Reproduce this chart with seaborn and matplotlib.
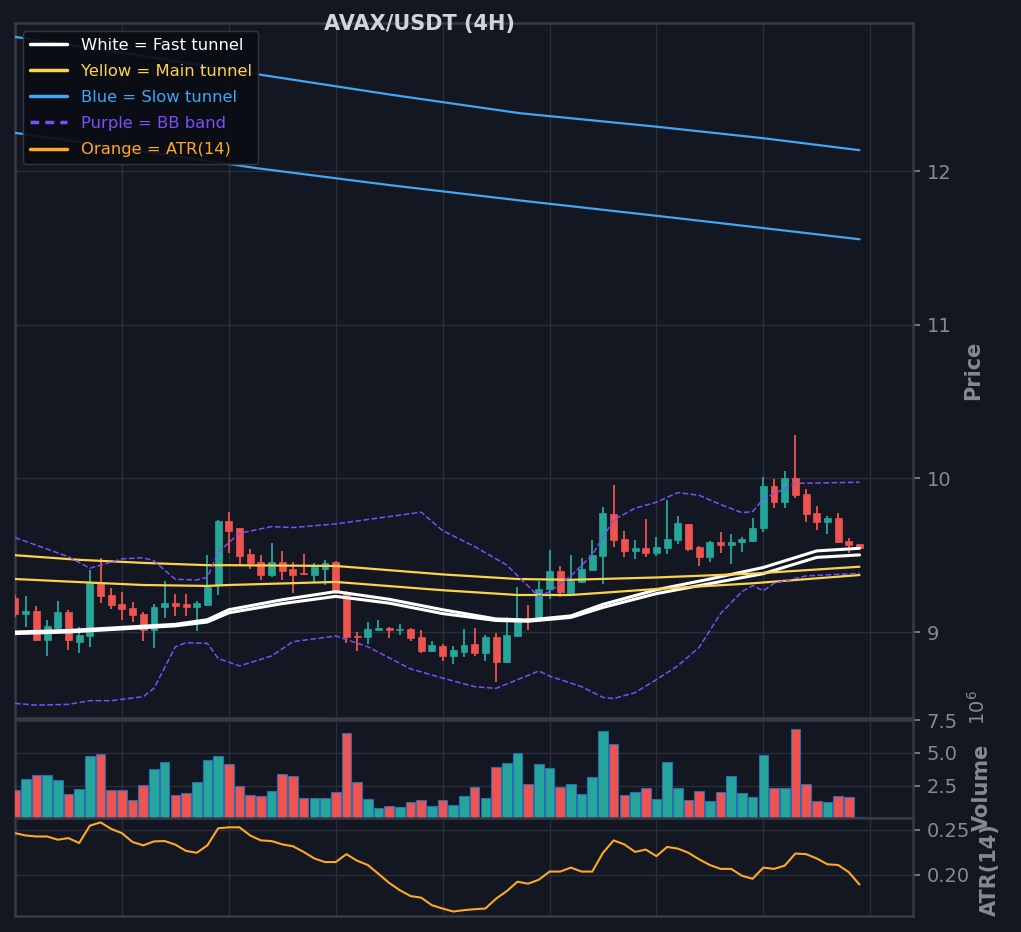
import matplotlib
matplotlib.use("Agg")
import matplotlib.pyplot as plt
from matplotlib.lines import Line2D
from matplotlib.ticker import FixedLocator, MultipleLocator, FuncFormatter
import numpy as np
import pandas as pd
import seaborn as sns

# candle data (4H, 80 bars)
opens = [9.22, 9.12, 9.14, 8.946, 9.028, 9.128, 8.933, 8.974, 9.317, 9.243,
         9.18, 9.154, 9.115, 9.013, 9.161, 9.187, 9.18, 9.165, 9.178, 9.306,
         9.723, 9.675, 9.506, 9.458, 9.373, 9.454, 9.408, 9.384, 9.373, 9.413,
         9.456, 9.26, 8.976, 8.965, 9.013, 9.024, 9.011, 9.017, 8.965, 8.878,
         8.911, 8.846, 8.872, 8.922, 8.865, 8.965, 8.807, 8.974, 9.089, 9.089,
         9.278, 9.397, 9.256, 9.324, 9.404, 9.495, 9.767, 9.604, 9.528, 9.545,
         9.512, 9.549, 9.597, 9.701, 9.556, 9.486, 9.588, 9.565, 9.584, 9.595,
         9.675, 9.953, 9.845, 10.005, 9.897, 9.773, 9.714, 9.741, 9.595, 9.571]
highs = [9.24, 9.235, 9.17, 9.078, 9.202, 9.143, 9.035, 9.404, 9.48, 9.284,
         9.258, 9.193, 9.128, 9.18, 9.332, 9.248, 9.245, 9.202, 9.502, 9.73,
         9.78, 9.68, 9.541, 9.502, 9.582, 9.528, 9.454, 9.508, 9.452, 9.469,
         9.46, 9.265, 9.002, 9.065, 9.078, 9.03, 9.052, 9.026, 9.013, 8.941,
         8.922, 8.909, 9.017, 9.026, 8.98, 8.991, 9.10, 9.295, 9.176, 9.332,
         9.534, 9.43, 9.502, 9.48, 9.599, 9.812, 9.958, 9.658, 9.599, 9.736,
         9.617, 9.86, 9.756, 9.705, 9.558, 9.59, 9.649, 9.636, 9.617, 9.74,
         10.008, 9.995, 10.049, 10.283, 9.929, 9.821, 9.756, 9.773, 9.61, 9.573]
lows = [9.10, 9.03, 8.94, 8.846, 9.013, 8.883, 8.865, 8.90, 9.187, 9.152,
        9.078, 9.067, 8.944, 8.898, 9.093, 9.106, 9.104, 9.009, 9.169, 9.243,
        9.512, 9.43, 9.41, 9.339, 9.36, 9.339, 9.256, 9.373, 9.328, 9.306,
        9.25, 8.93, 8.878, 8.922, 9.007, 8.963, 8.978, 8.944, 8.865, 8.872,
        8.813, 8.792, 8.839, 8.846, 8.813, 8.676, 8.80, 8.97, 9.013, 9.08,
        9.213, 9.23, 9.252, 9.32, 9.40, 9.311, 9.552, 9.491, 9.473, 9.486,
        9.497, 9.506, 9.571, 9.528, 9.432, 9.454, 9.512, 9.441, 9.523, 9.588,
        9.654, 9.81, 9.806, 9.871, 9.719, 9.665, 9.636, 9.578, 9.517, 9.545]
closes = [9.12, 9.14, 8.946, 9.037, 9.128, 8.946, 8.98, 9.317, 9.237, 9.174,
          9.148, 9.109, 9.013, 9.165, 9.187, 9.172, 9.165, 9.189, 9.291, 9.723,
          9.66, 9.497, 9.452, 9.373, 9.454, 9.40, 9.373, 9.376, 9.421, 9.452,
          9.26, 8.967, 8.965, 9.017, 9.028, 9.013, 9.022, 8.959, 8.878, 8.915,
          8.846, 8.881, 8.915, 8.865, 8.965, 8.807, 8.98, 9.089, 9.074, 9.278,
          9.397, 9.258, 9.332, 9.41, 9.502, 9.773, 9.599, 9.528, 9.545, 9.512,
          9.556, 9.604, 9.708, 9.541, 9.486, 9.588, 9.567, 9.588, 9.604, 9.68,
          9.953, 9.845, 10.005, 9.892, 9.767, 9.714, 9.741, 9.588, 9.567, 9.549]
volume = [2.15, 3.0, 3.28, 3.28, 2.92, 1.82, 2.23, 4.79, 4.92, 2.15,
          2.15, 1.38, 2.54, 3.77, 4.33, 1.77, 1.92, 2.79, 4.49, 4.79,
          4.15, 2.46, 1.77, 1.69, 2.10, 3.38, 3.23, 1.54, 1.54, 1.54,
          2.03, 6.54, 2.79, 1.46, 0.77, 0.92, 0.85, 1.23, 1.38, 0.95,
          1.38, 1.0, 1.69, 2.38, 1.54, 3.92, 4.26, 5.03, 2.62, 4.15,
          3.85, 2.38, 2.62, 1.85, 3.15, 6.69, 5.69, 1.77, 2.0, 2.31,
          1.46, 4.31, 2.31, 1.38, 2.08, 1.31, 2.0, 3.23, 1.92, 1.62,
          4.85, 2.31, 2.31, 6.85, 2.62, 1.31, 1.23, 1.69, 1.62, 0.05]
volume = [v * 1e6 for v in volume]
atr = [0.2464, 0.2438, 0.2427, 0.2427, 0.2391, 0.2409, 0.2354, 0.2547, 0.2584, 0.2511,
       0.2464, 0.2365, 0.2328, 0.2372, 0.2376, 0.2336, 0.2266, 0.2245, 0.2328, 0.2518,
       0.2529, 0.2529, 0.2438, 0.2383, 0.2376, 0.2339, 0.2318, 0.2255, 0.2182, 0.2142,
       0.2142, 0.2230, 0.2157, 0.2109, 0.2011, 0.1909, 0.1828, 0.1763, 0.1745, 0.1661,
       0.1624, 0.1591, 0.1606, 0.1617, 0.1624, 0.1734, 0.1818, 0.1923, 0.1901, 0.1945,
       0.2036, 0.2036, 0.2080, 0.2036, 0.2036, 0.2245, 0.2383, 0.2339, 0.2255, 0.2281,
       0.2208, 0.2310, 0.2292, 0.2245, 0.2172, 0.2109, 0.2066, 0.2066, 0.1989, 0.1956,
       0.2080, 0.2066, 0.2102, 0.2237, 0.2230, 0.2182, 0.2117, 0.2109, 0.2029, 0.1891]

# tunnels (read at sample bars)
x_fast = [0, 5, 10, 15, 18, 20, 25, 30, 35, 40, 45, 48, 52, 55, 60, 65, 70, 75, 79]
fast_up = [9.00, 9.01, 9.03, 9.05, 9.08, 9.145, 9.21, 9.263, 9.213, 9.145, 9.085, 9.078,
           9.105, 9.18, 9.275, 9.345, 9.42, 9.528, 9.545]
fast_lo = [8.99, 9.00, 9.02, 9.04, 9.065, 9.125, 9.185, 9.232, 9.188, 9.12, 9.075, 9.07,
           9.095, 9.16, 9.25, 9.315, 9.38, 9.486, 9.502]
x_main = [0, 6, 12, 18, 20, 30, 40, 47, 52, 60, 69, 79]
main_up = [9.50, 9.47, 9.45, 9.435, 9.435, 9.43, 9.375, 9.345, 9.34, 9.355, 9.38, 9.425]
main_lo = [9.345, 9.325, 9.306, 9.30, 9.306, 9.326, 9.272, 9.241, 9.241, 9.28, 9.317, 9.371]
x_slow = [0, 12, 22.6, 35, 47.2, 60, 70, 79]
slow_up = [12.875, 12.75, 12.632, 12.50, 12.378, 12.29, 12.215, 12.137]
slow_lo = [12.25, 12.13, 12.02, 11.91, 11.81, 11.71, 11.63, 11.557]

# bollinger bands
x_bb_up = [0, 5, 7, 10, 12, 13, 15, 17, 18, 19, 21, 24, 26, 30, 38, 40, 43, 46, 49, 50,
           52, 54, 56, 58, 60, 62, 64, 66, 68, 69, 70, 73, 79]
bb_up = [9.615, 9.49, 9.415, 9.476, 9.484, 9.463, 9.343, 9.339, 9.356, 9.52, 9.643, 9.686,
         9.68, 9.704, 9.78, 9.66, 9.556, 9.436, 9.23, 9.263, 9.365, 9.502, 9.73, 9.806,
         9.845, 9.908, 9.89, 9.83, 9.777, 9.784, 9.866, 9.968, 9.975]
x_bb_lo = [0, 2, 5, 7, 9, 12, 13, 15, 16, 18, 19, 21, 24, 26, 30, 33, 37, 40, 43, 45,
           49, 50, 53, 55, 56, 58, 60, 62, 64, 66, 68, 69, 70, 71, 74, 79]
bb_lo = [8.535, 8.524, 8.529, 8.553, 8.553, 8.579, 8.633, 8.904, 8.93, 8.926, 8.828,
         8.779, 8.844, 8.937, 8.974, 8.904, 8.76, 8.70, 8.644, 8.633, 8.746, 8.713, 8.644,
         8.574, 8.567, 8.605, 8.69, 8.78, 8.90, 9.12, 9.263, 9.302, 9.269, 9.317, 9.365, 9.382]

BG = "#131722"
GRID = "#2a2e39"
SPINE = "#363a45"
TXT = "#868993"
UP = "#26a69a"
DOWN = "#ef5350"
WHITE = "#ffffff"
YELLOW = "#fdd34d"
BLUE = "#42a5f5"
PURPLE = "#7c4dff"
ORANGE = "#ffa726"

sns.set_theme(style="darkgrid", rc={
    "figure.facecolor": BG, "axes.facecolor": BG, "axes.edgecolor": SPINE,
    "grid.color": GRID, "axes.labelcolor": TXT, "xtick.color": TXT, "ytick.color": TXT,
})
plt.rcParams["font.family"] = ["DejaVu Sans"]

df = pd.DataFrame({"open": opens, "high": highs, "low": lows, "close": closes,
                   "volume": volume, "atr": atr})
df["x"] = np.arange(len(df))
df["up"] = df["close"] >= df["open"]
df["col"] = np.where(df["up"], UP, DOWN)

fig = plt.figure(figsize=(10.21, 9.32), dpi=100)
ax = fig.add_axes([0.0147, 0.2296, 0.8795, 0.7457])
axv = fig.add_axes([0.0147, 0.1223, 0.8795, 0.1052], sharex=ax)
axa = fig.add_axes([0.0147, 0.0172, 0.8795, 0.1052], sharex=ax)

# candles
ax.vlines(df["x"], df["low"], df["high"], colors=df["col"], linewidth=1.3, zorder=3)
body_lo = df[["open", "close"]].min(axis=1)
body_h = (df["close"] - df["open"]).abs().clip(lower=0.006)
ax.bar(df["x"], body_h, bottom=body_lo, width=0.65, color=df["col"],
       edgecolor=df["col"], linewidth=0.5, zorder=4)

# tunnels and bands
for xs, ys in [(x_fast, fast_up), (x_fast, fast_lo)]:
    sns.lineplot(x=xs, y=ys, ax=ax, color=WHITE, linewidth=2.2, zorder=5)
for xs, ys in [(x_main, main_up), (x_main, main_lo)]:
    sns.lineplot(x=xs, y=ys, ax=ax, color=YELLOW, linewidth=1.6, zorder=5)
for xs, ys in [(x_slow, slow_up), (x_slow, slow_lo)]:
    sns.lineplot(x=xs, y=ys, ax=ax, color=BLUE, linewidth=1.6, zorder=5)
for xs, ys in [(x_bb_up, bb_up), (x_bb_lo, bb_lo)]:
    sns.lineplot(x=xs, y=ys, ax=ax, color=PURPLE, linewidth=1.1, linestyle="--",
                 dashes=(4, 2.5), zorder=5)

ax.set_ylim(8.44, 12.965)
ax.set_xlim(0, 84)
ax.yaxis.set_major_locator(MultipleLocator(1))
ax.xaxis.set_major_locator(MultipleLocator(10))
ax.set_ylabel("Price", fontsize=15, fontweight="bold", color=TXT)
ax.yaxis.set_label_coords(1.056, 0.5)

handles = [Line2D([], [], color=WHITE, lw=2.5), Line2D([], [], color=YELLOW, lw=2.5),
           Line2D([], [], color=BLUE, lw=2.5),
           Line2D([], [], color=PURPLE, lw=2.5, ls="--", dashes=(2.5, 1.8)),
           Line2D([], [], color=ORANGE, lw=2.5)]
labels = ["White = Fast tunnel", "Yellow = Main tunnel", "Blue = Slow tunnel",
          "Purple = BB band", "Orange = ATR(14)"]
leg = ax.legend(handles, labels, loc="upper left", fontsize=11.8, frameon=True,
                facecolor="#0b0d13", edgecolor=SPINE, framealpha=0.92,
                labelspacing=0.68, handlelength=2.3)
for t, c in zip(leg.get_texts(), [WHITE, YELLOW, BLUE, PURPLE, ORANGE]):
    t.set_color(c)
leg.set_zorder(10)

# volume
axv.bar(df["x"], df["volume"], width=0.9, color=df["col"], edgecolor="#2a6db5",
        linewidth=0.8, zorder=3)
axv.set_ylim(0, 7.54e6)
axv.yaxis.set_major_locator(FixedLocator([2.5e6, 5e6, 7.5e6]))
axv.yaxis.set_major_formatter(FuncFormatter(lambda v, p: f"{v / 1e6:.1f}"))
axv.text(1.072, 1.13, r"$10^{6}$", transform=axv.transAxes, rotation=90,
         ha="center", va="center", fontsize=14, color=TXT)
axv.set_ylabel("Volume", fontsize=15, fontweight="bold", color=TXT)
axv.yaxis.set_label_coords(1.066, 0.31)

# atr
sns.lineplot(data=df, x="x", y="atr", ax=axa, color=ORANGE, linewidth=1.5, zorder=3)
axa.yaxis.set_major_locator(FixedLocator([0.20, 0.25]))
axa.yaxis.set_major_formatter(matplotlib.ticker.FormatStrFormatter("%.2f"))
axa.set_ylabel("ATR(14)", fontsize=15, fontweight="bold", color=TXT)
axa.yaxis.set_label_coords(1.075, 0.47)

for a in (ax, axv, axa):
    a.set_facecolor(BG)
    a.grid(True, color=GRID, linewidth=1)
    a.set_axisbelow(True)
    a.yaxis.tick_right()
    a.yaxis.set_label_position("right")
    a.tick_params(axis="y", which="major", length=5, width=1.2, color=TXT,
                  labelsize=14, labelcolor=TXT, right=True, left=False, pad=5)
    a.tick_params(axis="x", length=0, labelbottom=False)
    a.set_xlabel("")
    for s in a.spines.values():
        s.set_color(SPINE)
        s.set_linewidth(1.8)

fig.text(0.411, 0.9738, "AVAX/USDT (4H)", ha="center", va="center",
         fontsize=15, fontweight="bold", color="#d1d4dc", zorder=20)

fig.savefig("out.png", dpi=100, facecolor=BG)
